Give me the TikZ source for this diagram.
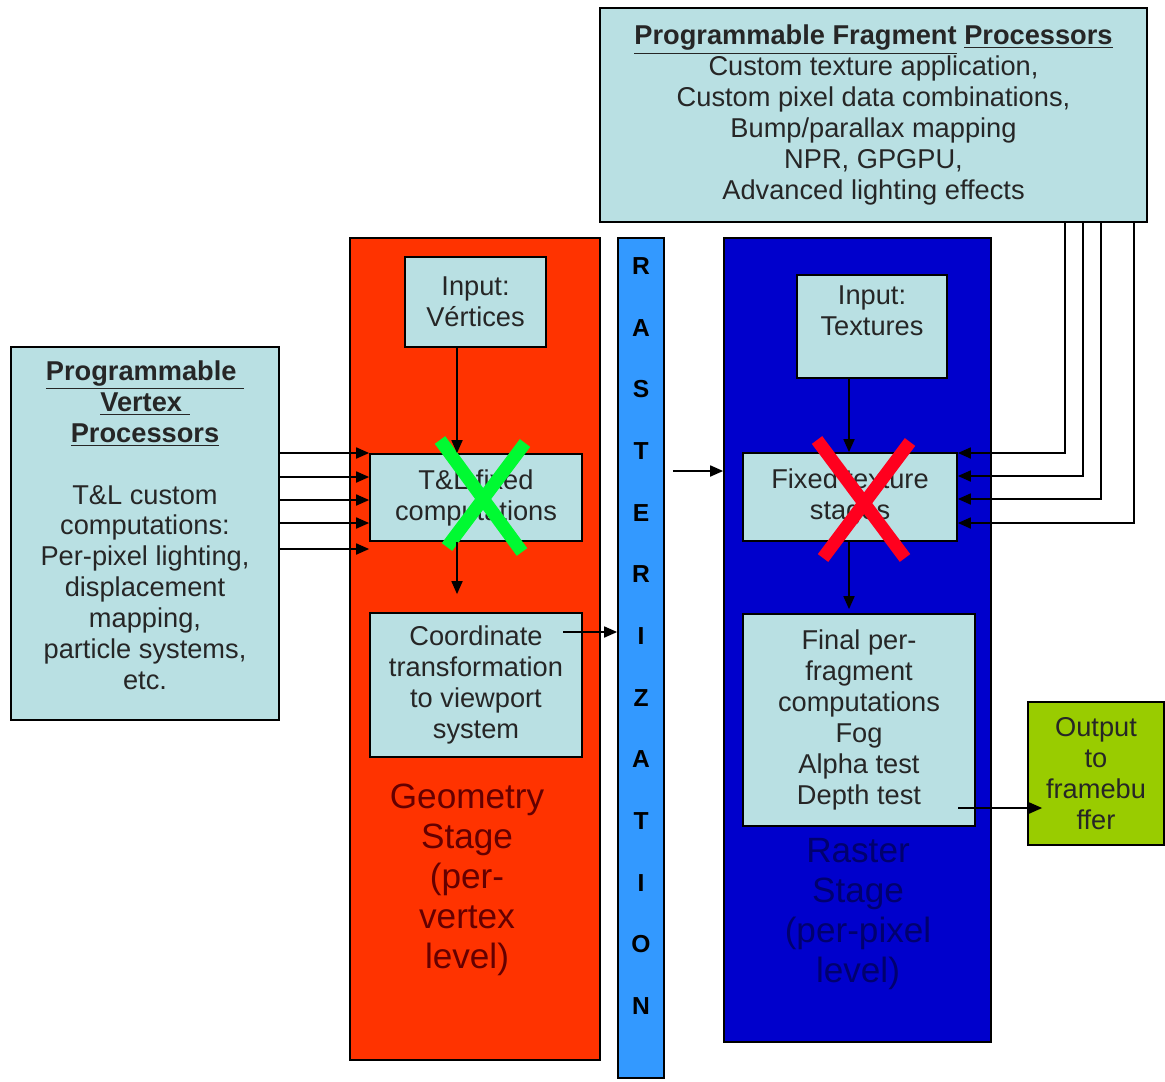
\documentclass[tikz,border=0pt]{standalone}
\usepackage{fontspec}
\setmainfont{Liberation Sans}
\usetikzlibrary{arrows.meta,positioning}
\definecolor{procblue}{RGB}{185,224,227}
\definecolor{geored}{RGB}{255,51,0}
\definecolor{rastblue}{RGB}{51,153,255}
\definecolor{pixblue}{RGB}{0,0,204}
\definecolor{outgreen}{RGB}{153,204,0}
\definecolor{crossgreen}{RGB}{0,250,50}
\definecolor{crossred}{RGB}{255,0,30}
\definecolor{geotext}{RGB}{100,0,0}
\definecolor{pixtext}{RGB}{0,0,110}
\tikzset{
  stagebox/.style={draw=black, line width=1pt, inner sep=0pt},
  procbox/.style={draw=black, fill=procblue, line width=1pt, align=center, inner sep=2pt, text=black!85, font={\fontsize{15.5}{17.6}\selectfont}},
  stagelabel/.style={align=center, inner sep=0pt, font={\fontsize{20}{22.7}\selectfont}},
  rastletters/.style={align=center, inner sep=0pt, font={\fontsize{14}{35.1}\selectfont\bfseries}},
  arrow/.style={-{Triangle[length=2.6mm,width=2.2mm]}, line width=1pt},
  crossline/.style={line width=7.4pt}
}

\begin{document}
\begin{tikzpicture}[x=0.02cm, y=-0.02cm]
\useasboundingbox (0,0) rectangle (1165,1081);
% stages
\node[stagebox, fill=geored, minimum width=5cm, minimum height=16.44cm] (geo) at (475,649) {};
\node[stagebox, fill=rastblue, minimum width=0.92cm, minimum height=16.8cm] (rast) at (641,658) {};
\node[stagebox, fill=pixblue, minimum width=5.34cm, minimum height=16.08cm] (pix) at (857.5,640) {};
\node[rastletters] (rastword) at (641,636) {R\\A\\S\\T\\E\\R\\I\\Z\\A\\T\\I\\O\\N};
\node[stagelabel, text=geotext] (geolabel) at (467,880) {Geometry\\Stage\\(per-\\vertex\\level)};
\node[stagelabel, text=pixtext] (pixlabel) at (858,914) {Raster\\Stage\\(per-pixel\\level)};
% boxes
\node[procbox, minimum width=5.36cm, minimum height=7.46cm] (vpp) at (145,533.5) {\textbf{\underline{Programmable\ }}\\\textbf{\underline{Vertex\ }}\\\textbf{\underline{Processors}}\\[17.6pt]T\&L custom\\computations:\\Per-pixel lighting,\\displacement\\mapping,\\particle systems,\\etc.\\[-8pt]\mbox{}};
\node[procbox, minimum width=2.82cm, minimum height=1.8cm] (vert) at (475.5,302) {Input:\\Vértices};
\node[procbox, minimum width=4.24cm, minimum height=1.74cm] (tlfix) at (476,497.5) {T\&L fixed\\computations};
\node[procbox, minimum width=4.24cm, minimum height=2.88cm] (coord) at (476,685) {Coordinate\\transformation\\to viewport\\system};
\node[procbox, minimum width=3cm, minimum height=2.06cm] (texin) at (872,326.5) {Input:\\Textures\\\mbox{}};
\node[procbox, minimum width=4.28cm, minimum height=1.76cm] (fixtex) at (850,497) {Fixed texture\\stages};
\node[procbox, minimum width=4.64cm, minimum height=4.24cm] (final) at (859,720) {Final per-\\fragment\\computations\\Fog\\Alpha test\\Depth test};
\node[procbox, fill=outgreen, minimum width=2.72cm, minimum height=2.86cm] (out) at (1096,773.5) {Output\\to\\framebu\\ffer};
\node[procbox, minimum width=10.94cm, minimum height=4.28cm] (frag) at (873.5,115) {\textbf{\underline{Programmable Fragment} \underline{Processors}}\\Custom texture application,\\Custom pixel data combinations,\\Bump/parallax mapping\\NPR, GPGPU,\\Advanced lighting effects};
% crossed out
\draw[crossline, crossgreen] (440,440) -- (522,552);
\draw[crossline, crossgreen] (525,443) -- (447,547);
\draw[crossline, crossred] (817,440) -- (905,558);
\draw[crossline, crossred] (910,442) -- (823,558);
% vertex side
\draw[arrow] (vpp.east |- 0,453) -- (tlfix.west |- 0,453);
\draw[arrow] (vpp.east |- 0,477) -- (tlfix.west |- 0,477);
\draw[arrow] (vpp.east |- 0,500) -- (tlfix.west |- 0,500);
\draw[arrow] (vpp.east |- 0,523) -- (tlfix.west |- 0,523);
\draw[arrow] (vpp.east |- 0,549) -- (tlfix.west |- 0,549);
\draw[arrow] (vert.south -| 457,0) -- (tlfix.north -| 457,0);
\draw[arrow, shorten >=0.36cm] (tlfix.south -| 457,0) -- (coord.north -| 457,0);
\coordinate (coordout) at (563,632);
\draw[arrow] (coordout) -- (rast.west |- coordout);
% fragment side
\draw[arrow, shorten <=0.16cm] (rast.east |- 0,471) -- (pix.west |- 0,471);
\draw[arrow] (texin.south -| 849,0) -- (fixtex.north -| 849,0);
\draw[arrow, shorten >=0.08cm] (fixtex.south -| 849,0) -- (final.north -| 849,0);
\draw[arrow] (frag.south -| 1065,0) |- (fixtex.east |- 0,453);
\draw[arrow] (frag.south -| 1083,0) |- (fixtex.east |- 0,476);
\draw[arrow] (frag.south -| 1101,0) |- (fixtex.east |- 0,499);
\draw[arrow] (frag.south -| 1134,0) |- (fixtex.east |- 0,523);
\coordinate (finalout) at (958,808);
\draw[arrow, shorten >=-0.3cm] (finalout) -- (out.west |- finalout);
\end{tikzpicture}
\end{document}
